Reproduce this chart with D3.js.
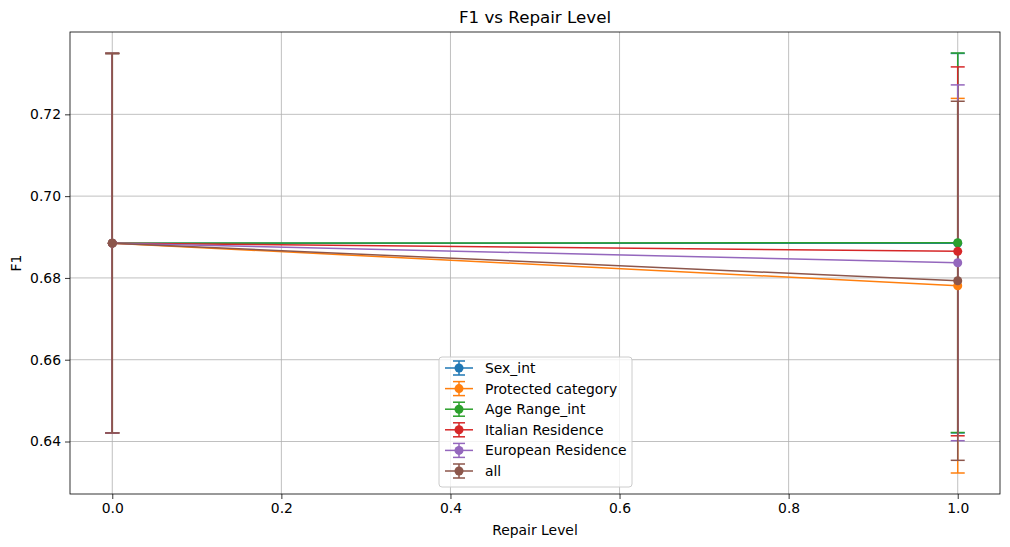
<!DOCTYPE html>
<html>
<head>
<meta charset="utf-8">
<script src="https://cdn.jsdelivr.net/npm/d3@7"></script>
<style>
  body { margin: 0; background: #fff; }
  text { font-family: "DejaVu Sans", sans-serif; fill: #000; }
</style>
</head>
<body>
<svg id="chart" width="1010" height="547"></svg>
<script>
"use strict";

// repair levels on the x axis
var levels = [0, 1];
var seriesNames = ['Sex_int', 'Protected category', 'Age Range_int',
  'Italian Residence', 'European Residence', 'all'];
var seriesColors = ['#1f77b4', '#ff7f0e', '#2ca02c', '#d62728', '#9467bd', '#8c564b'];

// mean F1 and std per series
var sexMean = [0.6885, 0.6885],  sexErr = [0.0464, 0.0464];
var protMean = [0.6885, 0.6781], protErr = [0.0464, 0.0458];
var ageMean = [0.6885, 0.6886],  ageErr = [0.0464, 0.0464];
var italMean = [0.6885, 0.6865], italErr = [0.0464, 0.0451];
var euroMean = [0.6885, 0.6837], euroErr = [0.0464, 0.0435];
var allMean = [0.6885, 0.6793],  allErr = [0.0464, 0.0439];

var xTicks = [0, 0.2, 0.4, 0.6, 0.8, 1.0];
var yTicks = [0.64, 0.66, 0.68, 0.70, 0.72];

var means = [sexMean, protMean, ageMean, italMean, euroMean, allMean],
    errs = [sexErr, protErr, ageErr, italErr, euroErr, allErr];

var series = seriesNames.map((name, i) => ({
  name: name,
  color: seriesColors[i],
  points: levels.map((lv, j) => ({ x: lv, y: means[i][j], e: errs[i][j] }))
}));

var pLeft = 70, pRight = 1000, pTop = 32, pBottom = 494;

// matplotlib style 5% margins
var lo = d3.min(series, s => d3.min(s.points, p => p.y - p.e)),
    hi = d3.max(series, s => d3.max(s.points, p => p.y + p.e)),
    pad = (hi - lo) * 0.05;

var x = d3.scaleLinear().domain([-0.05, 1.05]).range([pLeft, pRight]);
var y = d3.scaleLinear().domain([lo - pad, hi + pad]).range([pBottom, pTop]);

var svg = d3.select('#chart');

// grid
var grid = svg.append('g');
grid.selectAll('.gx').data(xTicks).enter().append('line')
  .attr('x1', d => x(d)).attr('x2', d => x(d))
  .attr('y1', pTop).attr('y2', pBottom)
  .attr('stroke', '#b0b0b0').attr('stroke-width', 0.8);
grid.selectAll('.gy').data(yTicks).enter().append('line')
  .attr('y1', d => y(d)).attr('y2', d => y(d))
  .attr('x1', pLeft).attr('x2', pRight)
  .attr('stroke', '#b0b0b0').attr('stroke-width', 0.8);

var plot = svg.append('g');
var capHalf = 7;

// error bars first, markers and lines sit above them
series.forEach(s => {
  var g = plot.append('g');
  g.selectAll('line.bar').data(s.points).enter().append('line')
    .attr('x1', d => x(d.x)).attr('x2', d => x(d.x))
    .attr('y1', d => y(d.y - d.e)).attr('y2', d => y(d.y + d.e))
    .attr('stroke', s.color).attr('stroke-width', 1.5);
  ['lo', 'hi'].forEach(k => {
    g.selectAll('line.cap' + k).data(s.points).enter().append('line')
      .attr('x1', d => x(d.x) - capHalf).attr('x2', d => x(d.x) + capHalf)
      .attr('y1', d => y(k === 'lo' ? d.y - d.e : d.y + d.e))
      .attr('y2', d => y(k === 'lo' ? d.y - d.e : d.y + d.e))
      .attr('stroke', s.color).attr('stroke-width', 1.5);
  });
});

var line = d3.line().x(d => x(d.x)).y(d => y(d.y));
series.forEach(s => {
  plot.append('path').datum(s.points)
    .attr('d', line).attr('fill', 'none')
    .attr('stroke', s.color).attr('stroke-width', 1.5);
  plot.selectAll(null).data(s.points).enter().append('circle')
    .attr('cx', d => x(d.x)).attr('cy', d => y(d.y)).attr('r', 4.5)
    .attr('fill', s.color);
});

// axes
var xAxis = svg.append('g').attr('transform', 'translate(0,' + pBottom + ')')
  .call(d3.axisBottom(x).tickValues(xTicks).tickFormat(d3.format('.1f'))
    .tickSizeInner(5).tickSizeOuter(0).tickPadding(4));
var yAxis = svg.append('g').attr('transform', 'translate(' + pLeft + ',0)')
  .call(d3.axisLeft(y).tickValues(yTicks).tickFormat(d3.format('.2f'))
    .tickSizeInner(5).tickSizeOuter(0).tickPadding(4));
[xAxis, yAxis].forEach(a => {
  a.select('.domain').remove();
  a.selectAll('text').style('font-size', '13.9px').style('font-family', '"DejaVu Sans", sans-serif');
  a.selectAll('line').attr('stroke', '#000').attr('stroke-width', 0.8);
});

svg.append('rect')
  .attr('x', pLeft).attr('y', pTop).attr('width', pRight - pLeft).attr('height', pBottom - pTop)
  .attr('fill', 'none').attr('stroke', '#000').attr('stroke-width', 0.8);

svg.append('text').attr('x', (pLeft + pRight) / 2).attr('y', 23)
  .attr('text-anchor', 'middle').style('font-size', '16.7px').text('F1 vs Repair Level');
svg.append('text').attr('x', (pLeft + pRight) / 2).attr('y', 535)
  .attr('text-anchor', 'middle').style('font-size', '13.9px').text('Repair Level');
svg.append('text').attr('transform', 'translate(21,' + (pTop + pBottom) / 2 + ') rotate(-90)')
  .attr('text-anchor', 'middle').style('font-size', '13.9px').text('F1');

// legend
var lg = svg.append('g').attr('transform', 'translate(439,357)');
lg.append('rect').attr('width', 193).attr('height', 130).attr('rx', 3)
  .attr('fill', 'rgba(255,255,255,0.8)').attr('stroke', '#cccccc').attr('stroke-width', 1);
series.forEach((s, i) => {
  var cy = 11 + i * 20.6;
  var row = lg.append('g').attr('transform', 'translate(0,' + cy + ')');
  row.append('line').attr('x1', 6).attr('x2', 34).attr('y1', 0).attr('y2', 0)
    .attr('stroke', s.color).attr('stroke-width', 1.5);
  row.append('line').attr('x1', 20).attr('x2', 20).attr('y1', -7).attr('y2', 7)
    .attr('stroke', s.color).attr('stroke-width', 1.5);
  [-7, 7].forEach(v => row.append('line').attr('x1', 14).attr('x2', 26)
    .attr('y1', v).attr('y2', v).attr('stroke', s.color).attr('stroke-width', 1.5));
  row.append('circle').attr('cx', 20).attr('cy', 0).attr('r', 4.5).attr('fill', s.color);
  row.append('text').attr('x', 46).attr('y', 5).style('font-size', '13.9px').text(s.name);
});
</script>
</body>
</html>
